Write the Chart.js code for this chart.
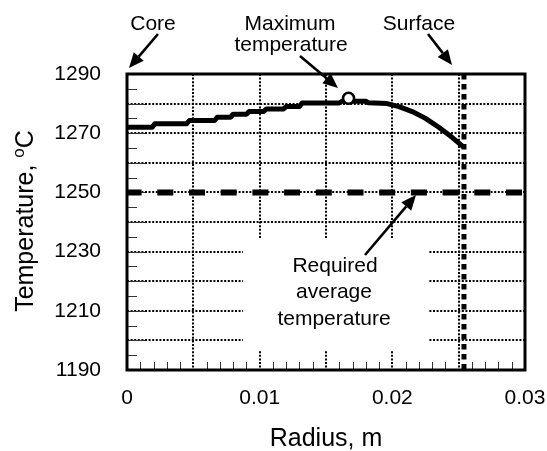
<!DOCTYPE html>
<html><head><meta charset="utf-8">
<script src="https://cdn.jsdelivr.net/npm/chart.js@4/dist/chart.umd.min.js"></script>
<style>html,body{margin:0;padding:0;background:#fff;}#wrap{width:547px;height:451px;position:relative;}</style>
</head><body><div id="wrap"><canvas id="c" width="547" height="451"></canvas></div>
<script>
// ---- data ----
const radius = [0, 0.0019, 0.0021, 0.0045, 0.0047, 0.0066, 0.0068, 0.0078, 0.0080, 0.0090, 0.0092, 0.0103, 0.0105, 0.0118, 0.0120, 0.0130, 0.0132, 0.0160, 0.0162, 0.0180, 0.0182, 0.0196, 0.0205, 0.0215, 0.0225, 0.0235, 0.0245, 0.0254];
const temperature = [1272, 1272, 1273.2, 1273.2, 1274.3, 1274.3, 1275.4, 1275.4, 1276.4, 1276.4, 1277.3, 1277.3, 1278.2, 1278.2, 1279.0, 1279.0, 1280.2, 1280.2, 1280.8, 1280.8, 1280.3, 1280.0, 1279.0, 1277.3, 1275.0, 1272.0, 1268.6, 1265.2];
const maxRadius = [0.0167];
const maxTemperature = [1281.8];
const requiredRadius = [0, 0.03];
const requiredTemperature = [1250, 1250];
const surfaceRadius = [0.0254, 0.0254];
const surfaceTemperature = [1290, 1190];
const xTickLabels = [0, 0.01, 0.02, 0.03];
const yTickLabels = [1190, 1210, 1230, 1250, 1270, 1290];

const FONT = '"Liberation Sans", Arial, Helvetica, sans-serif';
const pts = (xs, ys) => xs.map((x, i) => ({x: x, y: ys[i]}));

function arrow(ctx, x1, y1, x2, y2) {
  const a = Math.atan2(y2 - y1, x2 - x1), L = 15, W = 6.5;
  const bx = x2 - L * Math.cos(a), by = y2 - L * Math.sin(a);
  ctx.beginPath(); ctx.moveTo(x1, y1); ctx.lineTo(bx, by);
  ctx.lineWidth = 2.6; ctx.strokeStyle = '#000'; ctx.stroke();
  ctx.beginPath(); ctx.moveTo(x2, y2);
  ctx.lineTo(bx + W * Math.sin(a), by - W * Math.cos(a));
  ctx.lineTo(bx - W * Math.sin(a), by + W * Math.cos(a));
  ctx.closePath(); ctx.fillStyle = '#000'; ctx.fill();
}

const decor = {
  id: 'decor',
  beforeDatasetsDraw(chart) {
    const ctx = chart.ctx, a = chart.chartArea, xs = chart.scales.x, ys = chart.scales.y;
    ctx.save();
    // white box behind the "Required average temperature" label
    ctx.fillStyle = '#fff';
    ctx.fillRect(243, 238, 185, 112);
    // minor ticks
    ctx.strokeStyle = '#333'; ctx.lineWidth = 1;
    for (let i = 0; i <= 30; i++) {
      if (i % 5 === 0) continue;
      const px = Math.round(xs.getPixelForValue(i / 1000)) + 0.5;
      ctx.beginPath(); ctx.moveTo(px, a.bottom); ctx.lineTo(px, a.bottom - 8); ctx.stroke();
    }
    for (let v = 1195; v < 1290; v += 5) {
      const py = Math.round(ys.getPixelForValue(v)) + 0.5;
      const len = (v % 10 === 0) ? 18 : 10;
      ctx.beginPath(); ctx.moveTo(a.left, py); ctx.lineTo(a.left + len, py); ctx.stroke();
    }
    ctx.restore();
  },
  afterDatasetsDraw(chart) {
    const ctx = chart.ctx, a = chart.chartArea;
    ctx.save();
    ctx.strokeStyle = '#000'; ctx.lineWidth = 3;
    ctx.strokeRect(a.left, a.top, a.right - a.left, a.bottom - a.top);
    ctx.fillStyle = '#000';
    ctx.font = '21px ' + FONT; ctx.textAlign = 'center'; ctx.textBaseline = 'alphabetic';
    ctx.fillText('Core', 153, 30);
    ctx.fillText('Maximum', 290, 30);
    ctx.fillText('temperature', 291, 51);
    ctx.fillText('Surface', 419, 30);
    ctx.fillText('Required', 335, 272);
    ctx.fillText('average', 334, 298);
    ctx.fillText('temperature', 334, 325);
    arrow(ctx, 158, 34, 129, 68);
    arrow(ctx, 300, 56, 338, 88);
    arrow(ctx, 428, 34, 452, 65);
    arrow(ctx, 365, 255, 416, 195);
    // x axis title
    ctx.font = '25px ' + FONT;
    ctx.fillText('Radius, m', (a.left + a.right) / 2, 446);
    // y axis title with superscript
    ctx.translate(33, 221); ctx.rotate(-Math.PI / 2);
    ctx.textAlign = 'left';
    const big = '25px ' + FONT, small = '17px ' + FONT;
    ctx.font = big; const w1 = ctx.measureText('Temperature, ').width; const w3 = ctx.measureText('C').width;
    ctx.font = small; const w2 = ctx.measureText('o').width;
    let x0 = -(w1 + w2 + w3) / 2;
    ctx.font = big; ctx.fillText('Temperature, ', x0, 0);
    ctx.font = small; ctx.fillText('o', x0 + w1, -9);
    ctx.font = big; ctx.fillText('C', x0 + w1 + w2, 0);
    ctx.restore();
  }
};

new Chart(document.getElementById('c'), {
  type: 'scatter',
  data: {
    datasets: [
      { data: pts(maxRadius, maxTemperature), pointRadius: 5.5, pointBorderWidth: 2.6,
        pointBackgroundColor: '#fff', pointBorderColor: '#000', showLine: false },
      { data: pts(radius, temperature), showLine: true, borderColor: '#000', borderWidth: 5,
        pointRadius: 0, tension: 0, borderJoinStyle: 'round' },
      { data: pts(surfaceRadius, surfaceTemperature), showLine: true, borderColor: '#000', borderWidth: 5,
        borderDash: [5.5, 4.5], pointRadius: 0, borderCapStyle: 'butt' },
      { data: pts(requiredRadius, requiredTemperature), showLine: true, borderColor: '#000', borderWidth: 6,
        borderDash: [16, 15.7], borderDashOffset: 1.4, pointRadius: 0, borderCapStyle: 'butt' }
    ]
  },
  options: {
    responsive: false, animation: false, devicePixelRatio: 1,
    layout: { padding: { top: 74, right: 22, left: 0, bottom: 0 } },
    plugins: { legend: { display: false }, tooltip: { enabled: false } },
    scales: {
      x: {
        type: 'linear', min: 0, max: 0.03,
        afterFit(s) { s.height = 81; s.paddingLeft = 0; s.paddingRight = 0; },
        ticks: { stepSize: 0.005, autoSkip: false, maxRotation: 0, padding: 16, color: '#000',
          font: { family: FONT, size: 21 },
          callback(v) { const m = xTickLabels.find(t => Math.abs(t - v) < 1e-9); return m === undefined ? '' : String(m); } },
        grid: { color: '#000', lineWidth: 2, drawTicks: false },
        border: { display: false, dash: [2, 1.6] }
      },
      y: {
        type: 'linear', min: 1190, max: 1290,
        afterFit(s) { s.width = 127; },
        ticks: { stepSize: 10, autoSkip: false, padding: 26, color: '#000',
          font: { family: FONT, size: 21 },
          callback(v) { return yTickLabels.includes(Math.round(v)) ? String(Math.round(v)) : ''; } },
        grid: { color: '#000', lineWidth: 2, drawTicks: false },
        border: { display: false, dash: [2, 1.6] }
      }
    }
  },
  plugins: [decor]
});
</script></body></html>
